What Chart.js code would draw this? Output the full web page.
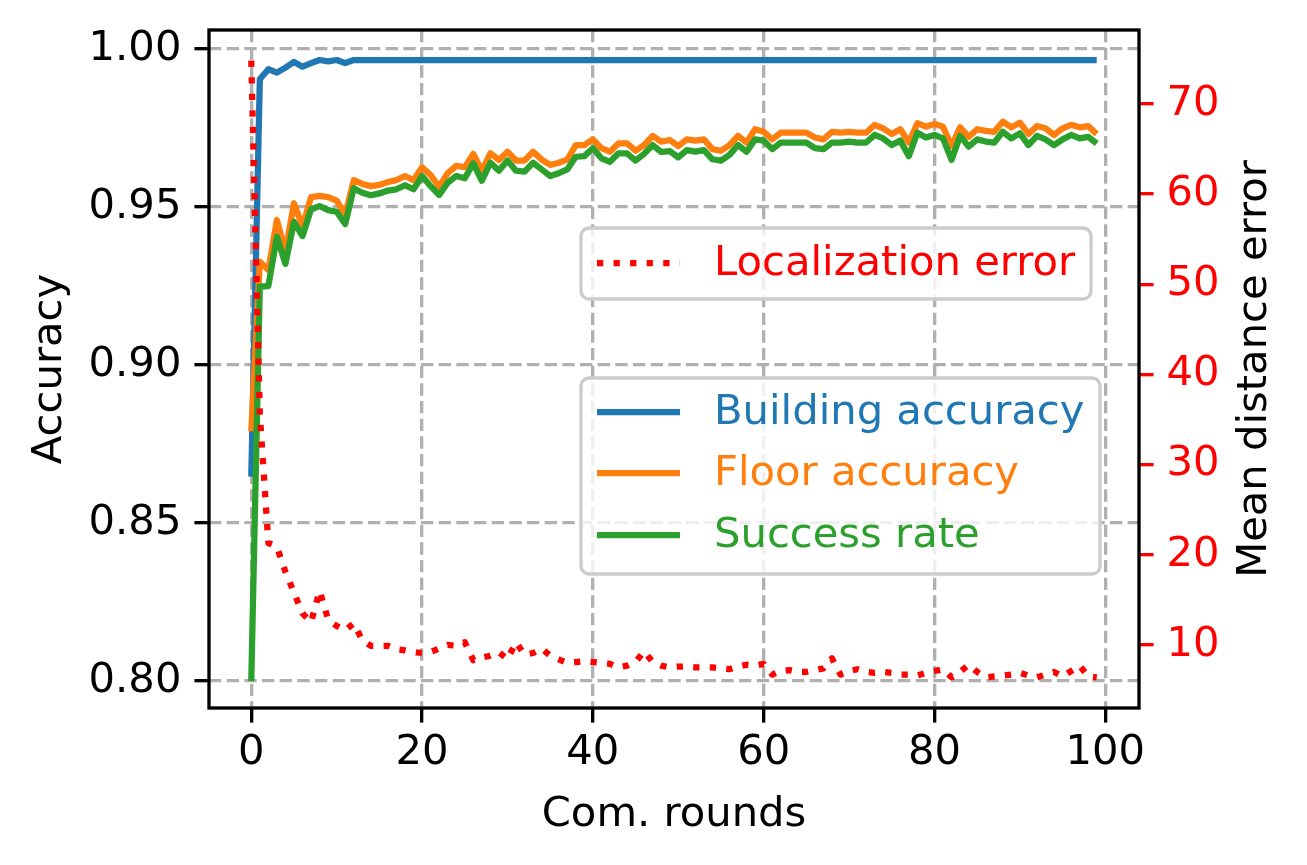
<!DOCTYPE html>
<html lang="en">
<head>
  <meta charset="UTF-8" />
  <title>Accuracy and localization error over communication rounds</title>
  <script src="https://cdn.jsdelivr.net/npm/chart.js"></script>
  <style>
    html, body { margin: 0; padding: 0; background: #fff; }
    canvas { display: block; }
  </style>
</head>
<body>
  <canvas id="chart" width="1307" height="865"></canvas>

  <script>
    // Daten
    const rounds = [0,1,2,3,4,5,6,7,8,9,10,11,12,13,14,15,16,17,18,19,20,21,22,23,24,25,26,27,28,29,
      30,31,32,33,34,35,36,37,38,39,40,41,42,43,44,45,46,47,48,49,50,51,52,53,54,55,56,57,58,59,
      60,61,62,63,64,65,66,67,68,69,70,71,72,73,74,75,76,77,78,79,80,81,82,83,84,85,86,87,88,89,
      90,91,92,93,94,95,96,97,98,99];

    const buildingAcc = [0.8647,0.9904,0.9936,0.9925,0.9941,0.9959,0.9944,0.9955,0.9965,0.9961,
      0.9965,0.9955,0.9965,0.9965,0.9965,0.9965,0.9965,0.9965,0.9965,0.9965,
      0.9965,0.9965,0.9965,0.9965,0.9965,0.9965,0.9965,0.9965,0.9965,0.9965,
      0.9965,0.9965,0.9965,0.9965,0.9965,0.9965,0.9965,0.9965,0.9965,0.9965,
      0.9965,0.9965,0.9965,0.9965,0.9965,0.9965,0.9965,0.9965,0.9965,0.9965,
      0.9965,0.9965,0.9965,0.9965,0.9965,0.9965,0.9965,0.9965,0.9965,0.9965,
      0.9965,0.9965,0.9965,0.9965,0.9965,0.9965,0.9965,0.9965,0.9965,0.9965,
      0.9965,0.9965,0.9965,0.9965,0.9965,0.9965,0.9965,0.9965,0.9965,0.9965,
      0.9965,0.9965,0.9965,0.9965,0.9965,0.9965,0.9965,0.9965,0.9965,0.9965,
      0.9965,0.9965,0.9965,0.9965,0.9965,0.9965,0.9965,0.9965,0.9965,0.9965];

    const floorAcc = [0.879,0.9327,0.9301,0.9459,0.9359,0.9512,0.9438,0.9531,0.9535,0.9531,
      0.952,0.9475,0.9585,0.9573,0.9566,0.957,0.9579,0.9585,0.9598,0.9585,
      0.9626,0.9601,0.9564,0.9607,0.963,0.9626,0.9668,0.9614,0.967,0.9649,
      0.9675,0.9647,0.9647,0.9675,0.965,0.9633,0.964,0.965,0.9696,0.9696,
      0.9714,0.9686,0.9675,0.9701,0.9701,0.9678,0.9696,0.9725,0.9707,0.9712,
      0.9693,0.9714,0.971,0.9714,0.9683,0.9678,0.9696,0.9725,0.9704,0.9746,
      0.9738,0.9714,0.9735,0.9735,0.9735,0.9735,0.972,0.9714,0.9738,0.9735,
      0.9738,0.9735,0.9735,0.976,0.9749,0.9731,0.9746,0.9704,0.9765,0.9754,
      0.9763,0.9754,0.9693,0.9752,0.9722,0.9746,0.9741,0.9738,0.977,0.9752,
      0.9767,0.9731,0.9756,0.9749,0.9728,0.9749,0.976,0.9752,0.9756,0.9731];

    const successRate = [0.80,0.9248,0.925,0.9406,0.932,0.9453,0.9408,0.9493,0.9503,0.949,
      0.9485,0.9446,0.9559,0.9545,0.9537,0.9543,0.9552,0.9556,0.9569,0.9556,
      0.9598,0.9566,0.9538,0.9577,0.9598,0.9591,0.9638,0.9583,0.964,0.9615,
      0.9647,0.9615,0.9612,0.964,0.9619,0.9598,0.9607,0.9619,0.9659,0.9661,
      0.9686,0.9654,0.9643,0.967,0.967,0.9647,0.9668,0.9696,0.9674,0.9677,
      0.9657,0.968,0.9675,0.968,0.9651,0.9647,0.9665,0.9696,0.9675,0.9714,
      0.971,0.9683,0.9704,0.9704,0.9704,0.9704,0.9686,0.9683,0.9704,0.9704,
      0.9707,0.9704,0.9704,0.9728,0.9717,0.9696,0.971,0.9661,0.9735,0.972,
      0.9728,0.9717,0.9649,0.9725,0.9691,0.9714,0.9707,0.9704,0.9738,0.9717,
      0.9733,0.9696,0.9725,0.9714,0.9696,0.9714,0.9728,0.9717,0.9722,0.9701];

    const locError = [74.8,35.6,21.3,20.9,18.1,15.8,13.5,12.5,16.0,12.8,
      12.1,11.6,12.4,10.5,9.9,9.9,9.9,9.5,9.4,9.2,
      9.1,9.2,9.6,10.0,9.9,10.3,8.3,8.6,8.8,9.2,
      8.4,10.3,8.9,9.1,9.6,8.8,8.4,8.0,8.1,8.2,
      8.1,8.0,7.9,7.5,7.7,8.1,9.3,8.1,7.7,7.5,
      7.6,7.6,7.5,7.5,7.5,7.4,7.3,7.6,7.8,7.7,
      7.9,6.7,7.1,7.2,7.0,7.0,7.2,7.4,8.5,6.7,
      7.1,7.3,7.0,6.9,7.0,6.9,6.7,6.7,6.6,6.9,
      7.1,7.3,6.4,7.0,7.8,7.0,6.4,6.5,6.6,6.7,
      6.9,6.6,6.4,6.7,7.0,6.5,7.1,7.7,6.5,6.4];

    const xTicks = [0, 20, 40, 60, 80, 100];
    const accTicks = [0.80, 0.85, 0.90, 0.95, 1.00];
    const errTicks = [10, 20, 30, 40, 50, 60, 70];

    // Stil (matplotlib bei 300 dpi)
    const FONT = 'DejaVu Sans';
    const FS = 41.7;
    const PT = 300 / 72;
    const GRID = '#b0b0b0';
    const GRID_DASH = [3.7 * 0.8 * PT, 1.6 * 0.8 * PT];

    function pts(values) {
      return rounds.map((r, i) => ({ x: r, y: values[i] }));
    }

    function setTicks(list) {
      return (axis) => { axis.ticks = list.map(v => ({ value: v })); };
    }

    // Rahmen, rechter Achsentitel und Legenden
    function drawLegend(ctx, box, rows) {
      ctx.save();
      ctx.beginPath();
      ctx.roundRect(box.x, box.y, box.w, box.h, 8);
      ctx.fillStyle = 'rgba(255,255,255,0.8)';
      ctx.fill();
      ctx.lineWidth = 0.8 * PT;
      ctx.strokeStyle = '#cccccc';
      ctx.stroke();
      ctx.font = FS + 'px "' + FONT + '"';
      ctx.textBaseline = 'middle';
      ctx.textAlign = 'left';
      rows.forEach(r => {
        ctx.beginPath();
        ctx.setLineDash(r.dash || []);
        ctx.lineCap = 'butt';
        ctx.lineWidth = 1.5 * PT;
        ctx.strokeStyle = r.color;
        ctx.moveTo(box.x + 16, r.y);
        ctx.lineTo(box.x + 16 + 83, r.y);
        ctx.stroke();
        ctx.setLineDash([]);
        ctx.fillStyle = r.color;
        ctx.fillText(r.label, box.x + 133, r.y + 1);
      });
      ctx.restore();
    }

    const overlay = {
      id: 'overlay',
      afterDatasetsDraw(chart) {
        const { ctx, chartArea: a } = chart;
        ctx.save();
        ctx.strokeStyle = '#000';
        ctx.lineWidth = 0.8 * PT;
        ctx.setLineDash([]);
        ctx.strokeRect(a.left, a.top, a.right - a.left, a.bottom - a.top);

        // rechter Achsentitel, von unten nach oben gelesen wie links
        ctx.translate(1255, (a.top + a.bottom) / 2);
        ctx.rotate(-Math.PI / 2);
        ctx.font = FS + 'px "' + FONT + '"';
        ctx.fillStyle = '#000';
        ctx.textAlign = 'center';
        ctx.textBaseline = 'middle';
        ctx.fillText('Mean distance error', 0, 0);
        ctx.restore();

        drawLegend(ctx, { x: 581, y: 228, w: 510, h: 71 }, [
          { label: 'Localization error', color: '#ff0000', y: 263, dash: [1.5 * PT, 2.475 * PT] }
        ]);
        drawLegend(ctx, { x: 581, y: 378, w: 519, h: 196 }, [
          { label: 'Building accuracy', color: '#1f77b4', y: 412 },
          { label: 'Floor accuracy', color: '#ff7f0e', y: 473 },
          { label: 'Success rate', color: '#2ca02c', y: 535 }
        ]);
      }
    };

    const lineStyle = {
      borderWidth: 1.5 * PT,
      pointRadius: 0,
      fill: false,
      tension: 0,
      borderJoinStyle: 'round'
    };

    const ctx = document.getElementById('chart').getContext('2d');
    new Chart(ctx, {
      type: 'line',
      data: {
        datasets: [
          Object.assign({ label: 'Localization error', data: pts(locError), yAxisID: 'y2',
            borderColor: '#ff0000', borderDash: [1.5 * PT, 2.475 * PT], borderCapStyle: 'butt', order: 0 }, lineStyle),
          Object.assign({ label: 'Success rate', data: pts(successRate), yAxisID: 'y',
            borderColor: '#2ca02c', order: 1 }, lineStyle),
          Object.assign({ label: 'Floor accuracy', data: pts(floorAcc), yAxisID: 'y',
            borderColor: '#ff7f0e', order: 2 }, lineStyle),
          Object.assign({ label: 'Building accuracy', data: pts(buildingAcc), yAxisID: 'y',
            borderColor: '#1f77b4', order: 3 }, lineStyle)
        ]
      },
      options: {
        responsive: false,
        animation: false,
        devicePixelRatio: 1,
        layout: { padding: { top: 30, left: 0, right: 0, bottom: 0 } },
        plugins: { legend: { display: false }, tooltip: { enabled: false } },
        scales: {
          x: {
            type: 'linear',
            min: -4.95, max: 103.95,
            afterBuildTicks: setTicks(xTicks),
            afterFit: (s) => { s.height = 157; },
            border: { display: false, dash: GRID_DASH },
            grid: { color: GRID, lineWidth: 0.8 * PT,
                    tickLength: 3.5 * PT, tickColor: '#000', tickWidth: 0.8 * PT, tickBorderDash: [] },
            ticks: { color: '#000', padding: 6, maxRotation: 0, font: { family: FONT, size: FS } },
            title: { display: true, text: 'Com. rounds', color: '#000', font: { family: FONT, size: FS },
                     padding: { top: 0, bottom: 25 } }
          },
          y: {
            position: 'left',
            min: 0.7915, max: 1.006,
            afterBuildTicks: setTicks(accTicks),
            afterFit: (s) => { s.width = 209; },
            border: { display: false, dash: GRID_DASH },
            grid: { color: GRID, lineWidth: 0.8 * PT,
                    tickLength: 3.5 * PT, tickColor: '#000', tickWidth: 0.8 * PT, tickBorderDash: [] },
            ticks: { color: '#000', padding: 13, font: { family: FONT, size: FS, lineHeight: 0.4 },
                     callback: (v) => v.toFixed(2) },
            title: { display: true, text: 'Accuracy', color: '#000', font: { family: FONT, size: FS },
                     padding: { top: 25, bottom: 0 } }
          },
          y2: {
            position: 'right',
            min: 3.0, max: 78.2,
            afterBuildTicks: setTicks(errTicks),
            afterFit: (s) => { s.width = 168; },
            border: { display: false },
            grid: { drawOnChartArea: false, color: '#ff0000', lineWidth: 0.8 * PT,
                    tickLength: 3.5 * PT, tickColor: '#ff0000', tickWidth: 0.8 * PT, tickBorderDash: [] },
            ticks: { color: '#ff0000', padding: 13, font: { family: FONT, size: FS, lineHeight: 0.4 } },
            title: { display: false }
          }
        }
      },
      plugins: [overlay]
    });
  </script>
</body>
</html>
